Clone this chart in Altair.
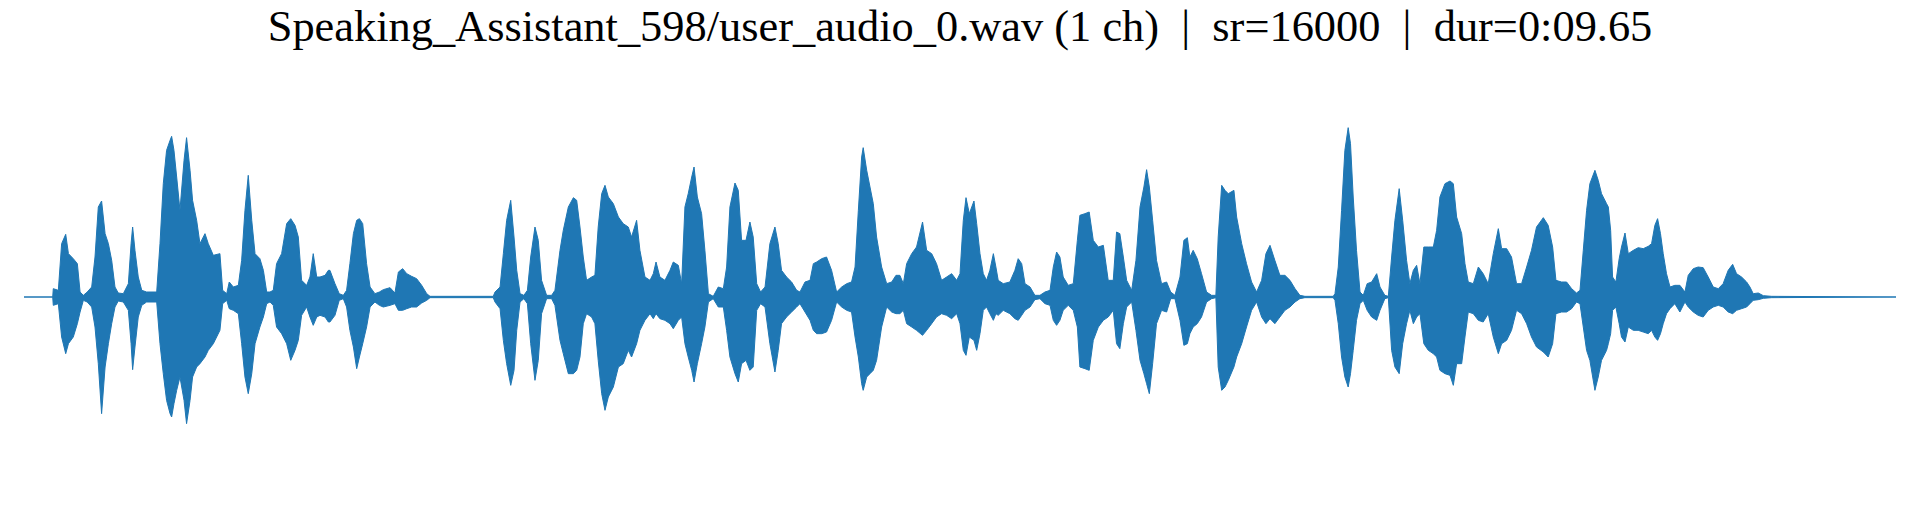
import altair as alt
import pandas as pd
import numpy as np

# Waveform envelope: time (s), upper and lower peak amplitude (raw units)
times = [
    0.000, 0.148, 0.151, 0.177, 0.194, 0.215, 0.229, 0.254, 0.275, 0.289, 0.306, 0.326, 0.349, 0.366,
    0.383, 0.400, 0.418, 0.435, 0.452, 0.469, 0.486, 0.512, 0.538, 0.552, 0.560, 0.572, 0.589, 0.607,
    0.632, 0.684, 0.701, 0.718, 0.735, 0.753, 0.761, 0.773, 0.787, 0.804, 0.825, 0.838, 0.856, 0.869,
    0.890, 0.907, 0.933, 0.950, 0.976, 1.010, 1.024, 1.045, 1.058, 1.079, 1.105, 1.122, 1.139, 1.156,
    1.174, 1.191, 1.216, 1.234, 1.251, 1.268, 1.285, 1.302, 1.328, 1.354, 1.375, 1.397, 1.414, 1.431,
    1.457, 1.474, 1.491, 1.509, 1.526, 1.552, 1.569,
    1.577, 1.603, 1.625, 1.646, 1.663, 1.680, 1.698, 1.715, 1.729, 1.746, 1.766, 1.784, 1.809, 1.832,
    1.852, 1.887, 1.912, 1.930, 1.952, 1.973, 1.998, 2.024, 2.050, 2.076, 2.093, 2.419, 2.428, 2.454,
    2.471, 2.488, 2.509, 2.526, 2.540, 2.557, 2.577, 2.595, 2.612, 2.634, 2.651, 2.668, 2.694, 2.720,
    2.737, 2.763, 2.780, 2.806, 2.832, 2.849, 2.866, 2.883, 2.900, 2.926, 2.943, 2.960, 2.978, 2.995,
    3.012, 3.038, 3.064, 3.089, 3.115, 3.132, 3.158, 3.175, 3.201, 3.227,
    3.244, 3.258, 3.278, 3.304, 3.330, 3.347, 3.373, 3.390, 3.407, 3.424, 3.442, 3.454, 3.471, 3.493,
    3.510, 3.528, 3.553, 3.579, 3.605, 3.622, 3.639, 3.665, 3.682, 3.699, 3.722, 3.742, 3.759, 3.777,
    3.797, 3.820, 3.845, 3.871, 3.888, 3.905, 3.931, 3.957, 3.983, 4.000, 4.026, 4.052, 4.069, 4.086,
    4.112, 4.137, 4.163, 4.189, 4.215, 4.241, 4.266, 4.284, 4.301, 4.318, 4.326, 4.344, 4.361, 4.378,
    4.395, 4.421, 4.447, 4.473, 4.495, 4.515, 4.533, 4.550, 4.576, 4.601, 4.632, 4.653, 4.679, 4.704,
    4.730, 4.756, 4.782, 4.808, 4.825, 4.842, 4.856,
    4.873, 4.897, 4.911, 4.928, 4.945, 4.962, 4.979, 4.997, 5.010, 5.022, 5.048, 5.082, 5.108, 5.125,
    5.143, 5.160, 5.186, 5.211, 5.237, 5.263, 5.289, 5.306, 5.323, 5.340, 5.357, 5.383, 5.409, 5.430,
    5.443, 5.469, 5.491, 5.512, 5.538, 5.564, 5.589, 5.615, 5.632, 5.649, 5.667, 5.684, 5.710, 5.732,
    5.753, 5.773, 5.787, 5.801, 5.818, 5.838, 5.864, 5.890, 5.911, 5.933, 5.959, 5.979, 5.997, 6.010,
    6.027, 6.048, 6.070, 6.096, 6.122, 6.144, 6.156, 6.174, 6.191, 6.208, 6.237, 6.251, 6.277, 6.302,
    6.328, 6.354, 6.380, 6.402, 6.423, 6.448, 6.474, 6.500, 6.526,
    6.552, 6.577, 6.603, 6.749, 6.758, 6.775, 6.792, 6.809, 6.826, 6.838, 6.852, 6.869, 6.887, 6.904,
    6.924, 6.947, 6.973, 6.990, 7.015, 7.033, 7.050, 7.067, 7.089, 7.107, 7.127, 7.144, 7.162, 7.179,
    7.196, 7.216, 7.239, 7.265, 7.282, 7.299, 7.325, 7.351, 7.368, 7.385, 7.411, 7.428, 7.445, 7.471,
    7.497, 7.522, 7.548, 7.574, 7.600, 7.617, 7.643, 7.668, 7.694, 7.720, 7.746, 7.771, 7.797, 7.832,
    7.857, 7.880, 7.897, 7.926, 7.952, 7.978, 8.003, 8.021, 8.038, 8.055, 8.072, 8.098, 8.115, 8.132,
    8.158,
    8.167, 8.179, 8.189, 8.206, 8.223, 8.235, 8.253, 8.270, 8.296, 8.321, 8.347, 8.373, 8.390, 8.407,
    8.421, 8.436, 8.450, 8.467, 8.485, 8.510, 8.536, 8.562, 8.579, 8.605, 8.630, 8.656, 8.682, 8.708,
    8.734, 8.759, 8.785, 8.808, 8.828, 8.854, 8.880, 8.897, 8.914, 8.940, 8.966, 9.009, 9.650,
]

upper = [
    0, 0, 25, 20, 160, 188, 130, 115, 100, 15, 5, 15, 30, 120,
    270, 288, 190, 160, 110, 30, 12, 10, 40, 160, 210, 140, 60, 20,
    15, 15, 160, 340, 440, 470, 482, 440, 360, 260, 410, 478, 380, 290,
    230, 160, 190, 160, 125, 130, 20, 10, 45, 30, 35, 110, 260, 365,
    230, 130, 115, 80, 15, 15, 20, 100, 130, 220, 235, 215, 180, 50,
    35, 60, 130, 60, 60, 65, 80,
    80, 40, 10, 5, 20, 100, 190, 230, 235, 220, 100, 30, 10, 15,
    22, 28, 12, 75, 85, 70, 62, 55, 35, 10, 2, 2, 15, 30,
    130, 230, 290, 180, 80, 10, 5, 20, 120, 210, 170, 50, 5, 5,
    20, 140, 200, 270, 298, 290, 210, 120, 50, 60, 65, 210, 310, 335,
    300, 280, 240, 220, 210, 180, 230, 140, 60, 50,
    70, 105, 60, 50, 80, 105, 95, 40, 270, 310, 360, 390, 300, 250,
    140, 10, 2, 30, 25, 90, 270, 342, 320, 170, 170, 225, 180, 40,
    15, 30, 160, 210, 160, 80, 60, 45, 20, 15, 45, 50, 100, 105,
    115, 120, 80, 15, 30, 40, 45, 90, 260, 420, 448, 380, 330, 280,
    180, 90, 40, 45, 65, 65, 40, 100, 130, 150, 225, 140, 130, 100,
    50, 60, 70, 50, 70, 230, 298,
    250, 288, 220, 130, 70, 50, 80, 130, 90, 50, 40, 45, 80, 115,
    100, 40, 30, 5, 5, 15, 20, 90, 135, 120, 60, 35, 40, 170,
    245, 250, 255, 170, 150, 155, 50, 50, 195, 190, 120, 50, 20, 110,
    270, 330, 382, 330, 230, 110, 40, 45, 15, 5, 60, 170, 178, 120,
    140, 115, 70, 15, 5, 5, 180, 335, 320, 310, 320, 240, 160, 100,
    45, 15, 50, 130, 155, 110, 65, 65, 50,
    25, 5, 2, 2, 10, 90, 260, 440, 508, 460, 300, 140, 15, 5,
    40, 45, 70, 30, 5, 2, 120, 230, 325, 230, 110, 40, 80, 95,
    40, 150, 150, 150, 200, 300, 340, 348, 340, 240, 190, 100, 45, 40,
    90, 70, 40, 130, 205, 145, 145, 120, 40, 40, 90, 140, 210, 238,
    215, 150, 50, 45, 45, 25, 12, 20, 140, 260, 340, 380, 350, 310,
    280,
    270, 200, 60, 45, 115, 150, 192, 130, 140, 148, 145, 152, 160, 215,
    235, 190, 130, 70, 30, 35, 35, 15, 65, 85, 90, 88, 60, 30,
    25, 40, 80, 98, 70, 60, 45, 30, 10, 12, 4, 2, 0,
]

lower = [
    0, 0, 25, 20, 120, 170, 140, 120, 80, 45, 10, 15, 30, 90,
    200, 350, 210, 140, 80, 30, 12, 15, 40, 140, 218, 150, 60, 25,
    15, 15, 140, 230, 310, 350, 360, 320, 280, 240, 310, 380, 310, 240,
    210, 200, 180, 160, 140, 100, 20, 10, 35, 40, 50, 140, 240, 290,
    230, 140, 90, 60, 20, 15, 25, 90, 110, 140, 190, 160, 130, 55,
    30, 60, 85, 60, 55, 60, 75,
    75, 55, 10, 5, 30, 100, 150, 215, 180, 140, 90, 30, 15, 25,
    30, 25, 20, 40, 40, 35, 30, 30, 18, 10, 2, 2, 15, 35,
    130, 200, 265, 220, 100, 15, 5, 20, 140, 250, 190, 50, 5, 5,
    25, 130, 170, 230, 230, 220, 180, 80, 50, 60, 80, 190, 290, 340,
    300, 270, 210, 200, 160, 180, 140, 100, 70, 50,
    65, 50, 65, 70, 80, 95, 70, 60, 140, 180, 220, 255, 200, 140,
    90, 15, 5, 30, 30, 100, 180, 230, 255, 200, 190, 220, 210, 40,
    20, 30, 140, 225, 160, 80, 60, 45, 30, 20, 45, 70, 100, 110,
    110, 105, 70, 15, 30, 40, 45, 120, 180, 260, 280, 240, 230, 220,
    190, 90, 30, 45, 50, 50, 40, 80, 90, 100, 115, 100, 80, 60,
    50, 55, 65, 50, 80, 160, 175,
    120, 130, 160, 110, 40, 30, 50, 70, 50, 55, 40, 50, 65, 70,
    55, 40, 30, 8, 5, 20, 25, 70, 85, 70, 40, 25, 40, 90,
    210, 215, 220, 130, 90, 70, 60, 40, 140, 155, 80, 30, 15, 100,
    190, 230, 260, 290, 200, 80, 40, 45, 5, 5, 70, 145, 140, 110,
    90, 80, 60, 15, 5, 2, 210, 280, 270, 250, 210, 180, 140, 90,
    40, 15, 60, 80, 65, 80, 60, 40, 30,
    15, 5, 2, 2, 10, 80, 180, 240, 270, 230, 160, 70, 20, 10,
    40, 60, 70, 40, 5, 2, 160, 210, 230, 140, 80, 40, 80, 60,
    50, 140, 160, 170, 180, 220, 230, 235, 265, 200, 200, 120, 45, 50,
    70, 75, 50, 120, 170, 140, 130, 100, 40, 50, 80, 120, 150, 165,
    180, 140, 50, 45, 45, 35, 15, 20, 90, 160, 190, 280, 240, 190,
    160,
    140, 110, 40, 30, 80, 120, 135, 90, 100, 100, 105, 110, 100, 120,
    130, 110, 80, 50, 35, 20, 45, 15, 30, 45, 55, 60, 40, 30,
    25, 30, 45, 50, 40, 35, 30, 20, 10, 8, 4, 2, 0,
]

TITLE = "Speaking_Assistant_598/user_audio_0.wav (1 ch)\u00a0 |\u00a0 sr=16000\u00a0 |\u00a0 dur=0:09.65"
SERIF = "Liberation Serif"

FULL = 600.0  # raw units per 1.0 of amplitude
df = pd.DataFrame({
    "t": times,
    "hi": np.array(upper) / FULL,
    "lo": -np.array(lower) / FULL,
})

color = "#1f77b4"
chart = alt.Chart(df).mark_area(
    color=color, stroke=color, strokeWidth=1, interpolate="linear"
).encode(
    x=alt.X("t:Q", scale=alt.Scale(domain=[0, 9.65], nice=False, zero=False), axis=None),
    y=alt.Y("hi:Q", scale=alt.Scale(domain=[-1.08, 1.08], nice=False), axis=None),
    y2="lo:Q",
).properties(
    width=1872,
    height=432,
    padding={"top": 73, "left": 16, "right": 16, "bottom": 4},
    autosize="none",
    background="white",
    title=alt.TitleParams(
        TITLE, font=SERIF, fontSize=44.4,
        fontWeight="normal", color="black", anchor="middle", offset=31,
    ),
).configure_view(strokeWidth=0, stroke="transparent")

chart.save("out.html", embed_options={"renderer": "svg", "actions": False})
